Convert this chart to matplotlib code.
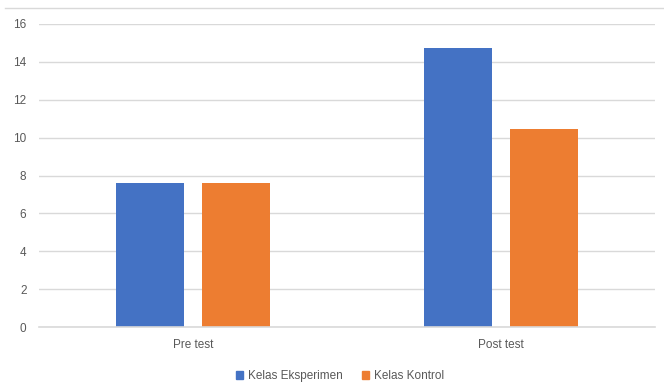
import matplotlib.pyplot as plt
import numpy as np
from matplotlib.lines import Line2D

plt.rcParams['font.family'] = ['Liberation Sans Narrow', 'Liberation Sans', 'DejaVu Sans']

# Data
kategori = ['Pre test', 'Post test']
eksperimen = [7.63, 14.72]
kontrol = [7.63, 10.47]
seri_label = ['Kelas Eksperimen', 'Kelas Kontrol']
warna = ['#4472C4', '#ED7D31']
yticks = [0, 2, 4, 6, 8, 10, 12, 14, 16]

fig = plt.figure(figsize=(6.64, 3.87), dpi=100)
ax = fig.add_axes([39 / 664, 1 - 327 / 387, 616 / 664, 303 / 387])

x = np.arange(len(kategori))
lebar = 0.22
jarak = 0.14
ax.bar(x - jarak, eksperimen, lebar, color=warna[0], label=seri_label[0], zorder=3)
ax.bar(x + jarak, kontrol, lebar, color=warna[1], label=seri_label[1], zorder=3)

ax.set_xlim(-0.5, 1.5)
ax.set_ylim(0, 16)
ax.set_yticks(yticks)
ax.set_xticks(x)
ax.set_xticklabels(kategori)
ax.grid(True, axis='y', color='#d9d9d9', linewidth=1.0, zorder=0)
ax.axhline(0, color='#d9d9d9', linewidth=1.2, zorder=4, clip_on=False)
ax.tick_params(axis='both', length=0, labelsize=8.5, labelcolor='#595959')
ax.tick_params(axis='y', pad=9)
ax.tick_params(axis='x', pad=9)
for s in ax.spines.values():
    s.set_visible(False)

# garis tepi atas area chart
fig.add_artist(Line2D([5 / 664, 1.0], [1 - 8 / 387, 1 - 8 / 387],
                      color='#d9d9d9', linewidth=1.0))

handles = [plt.Rectangle((0, 0), 1, 1, color=c) for c in warna]
fig.legend(handles, seri_label, loc='center', bbox_to_anchor=(340 / 664, 1 - 376 / 387),
           ncol=2, frameon=False, fontsize=8.5, handlelength=0.6, handleheight=0.6,
           handletextpad=0.4, columnspacing=1.6, labelcolor='#595959')

fig.savefig('out.png', dpi=100)
